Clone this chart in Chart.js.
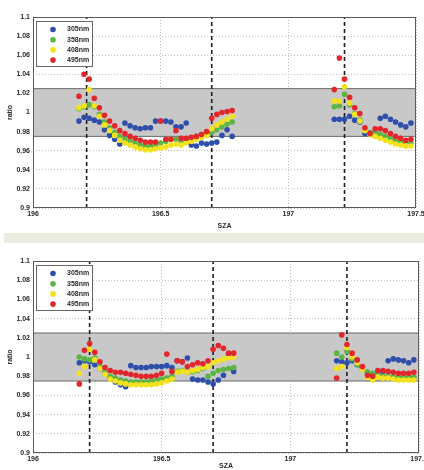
<!DOCTYPE html>
<html>
<head>
<meta charset="utf-8">
<script src="https://cdn.jsdelivr.net/npm/chart.js@4.4.0/dist/chart.umd.min.js"></script>
<style>
  html, body { margin: 0; padding: 0; background: #fff; }
  #wrap { position: relative; width: 424px; height: 470px; overflow: hidden; }
  canvas { position: absolute; left: 0; }
  #upper { top: 0; }
  #strip { position: absolute; left: 4px; top: 233px; width: 420px; height: 10px; background: #ebede0; }
  #lower { top: 243px; }
</style>
</head>
<body>
<div id="wrap">
  <canvas id="upper" width="424" height="233"></canvas>
  <div id="strip"></div>
  <canvas id="lower" width="424" height="227"></canvas>
</div>
<script>
// wavelengths and their marker colours
const bands = ["305nm", "358nm", "408nm", "495nm"];
const dotColors = ["#2d4fab", "#5cb444", "#f3e21c", "#e2262b"];

// axis limits and ticks
const szaRange = [196, 197.5];
const ratioRange = [0.9, 1.1];
const szaTicks = [196, 196.5, 197, 197.5];
const ratioTicks = [0.9, 0.92, 0.94, 0.96, 0.98, 1, 1.02, 1.04, 1.06, 1.08, 1.1];
const bandLimits = [0.975, 1.025];

// SZA sampling of the two measurement runs
const szaA = [196.18, 196.2, 196.22, 196.24, 196.26, 196.28, 196.3, 196.32, 196.34, 196.36,
  196.38, 196.4, 196.42, 196.44, 196.46, 196.48, 196.5, 196.52, 196.54, 196.56,
  196.58, 196.6, 196.62, 196.64, 196.66, 196.68, 196.7, 196.72, 196.74, 196.76, 196.78];
const szaB = [197.18, 197.2, 197.22, 197.24, 197.26, 197.28, 197.3, 197.32,
  197.34, 197.36, 197.38, 197.4, 197.42, 197.44, 197.46, 197.48];

// upper panel ratios
const upper305a = [0.991, 0.995, 0.994, 0.992, 0.990, 0.982, 0.976, 0.972, 0.967, 0.989,
  0.986, 0.984, 0.983, 0.984, 0.984, 0.991, 0.991, 0.991, 0.990, 0.985,
  0.985, 0.989, 0.966, 0.965, 0.968, 0.967, 0.968, 0.969, 0.976, 0.982, 0.975];
const upper358a = [1.004, 1.006, 1.008, 1.006, 0.998, 0.990, 0.984, 0.979, 0.975, 0.972,
  0.970, 0.968, 0.966, 0.965, 0.965, 0.966, 0.968, 0.970, 0.972, 0.972,
  0.970, 0.971, 0.973, 0.975, 0.977, 0.979, 0.979, 0.982, 0.985, 0.988, 0.990];
const upper408a = [1.005, 1.007, 1.024, 1.007, 0.996, 0.987, 0.981, 0.976, 0.971, 0.968,
  0.966, 0.964, 0.962, 0.961, 0.961, 0.962, 0.963, 0.964, 0.966, 0.967,
  0.966, 0.968, 0.970, 0.972, 0.974, 0.976, 0.983, 0.987, 0.990, 0.993, 0.996];
const upper495a = [1.017, 1.040, 1.035, 1.015, 1.005, 0.997, 0.991, 0.986, 0.981, 0.978,
  0.975, 0.973, 0.971, 0.969, 0.969, 0.969, 0.991, 0.972, 0.972, 0.981,
  0.973, 0.973, 0.974, 0.975, 0.977, 0.980, 0.994, 0.998, 1.000, 1.001, 1.002];
const upper305b = [0.993, 0.993, 0.993, 0.996, 0.992, 0.990, 0.978, 0.977,
  0.979, 0.994, 0.996, 0.993, 0.990, 0.987, 0.985, 0.989];
const upper358b = [1.006, 1.007, 1.019, 1.008, 0.999, 0.992, 0.983, 0.979,
  0.978, 0.977, 0.975, 0.973, 0.971, 0.969, 0.968, 0.968];
const upper408b = [1.012, 1.012, 1.027, 1.010, 0.998, 0.991, 0.981, 0.977,
  0.975, 0.973, 0.971, 0.969, 0.967, 0.966, 0.965, 0.965];
const upper495b = [1.024, 1.057, 1.035, 1.016, 1.005, 0.999, 0.984, 0.978,
  0.983, 0.983, 0.981, 0.978, 0.975, 0.973, 0.971, 0.972];
const upperMarks = [196.21, 196.7, 197.22];

// lower panel ratios
const lower305a = [0.994, 0.996, 0.995, 0.992, 0.988, 0.983, 0.978, 0.974, 0.971, 0.969,
  0.991, 0.989, 0.989, 0.989, 0.990, 0.990, 0.990, 0.991, 0.989, 0.996,
  0.995, 0.999, 0.977, 0.976, 0.976, 0.974, 0.972, 0.976, 0.981, 1.003, 0.985];
const lower358a = [1.000, 0.998, 0.997, 0.999, 0.990, 0.984, 0.980, 0.978, 0.976, 0.975,
  0.974, 0.974, 0.974, 0.974, 0.975, 0.976, 0.977, 0.978, 0.980, 0.985,
  0.986, 0.984, 0.985, 0.986, 0.988, 0.980, 0.983, 0.986, 0.987, 0.988, 0.989];
const lower408a = [0.983, 0.990, 1.008, 0.997, 0.988, 0.982, 0.977, 0.975, 0.973, 0.972,
  0.971, 0.971, 0.971, 0.971, 0.971, 0.972, 0.973, 0.975, 0.977, 0.984,
  0.985, 0.984, 0.986, 0.987, 0.989, 0.990, 0.994, 0.996, 0.998, 0.999, 1.000];
const lower495a = [0.972, 1.007, 1.014, 1.005, 0.995, 0.989, 0.986, 0.984, 0.984, 0.983,
  0.982, 0.981, 0.980, 0.980, 0.980, 0.981, 0.983, 1.003, 0.985, 0.996,
  0.995, 0.990, 0.992, 0.994, 0.993, 0.996, 1.008, 1.012, 1.009, 1.004, 1.004];
const lower305b = [0.996, 0.995, 0.994, 0.996, 0.992, 0.989, 0.984, 0.982,
  0.982, 0.985, 0.996, 0.998, 0.997, 0.996, 0.994, 0.997];
const lower358b = [1.004, 1.000, 1.006, 0.998, 0.992, 0.988, 0.984, 0.983,
  0.981, 0.980, 0.980, 0.979, 0.979, 0.979, 0.979, 0.979];
const lower408b = [0.988, 0.990, 1.010, 1.000, 0.994, 0.987, 0.979, 0.976,
  0.979, 0.978, 0.978, 0.977, 0.976, 0.976, 0.976, 0.976];
const lower495b = [0.978, 1.023, 1.013, 1.004, 0.997, 0.990, 0.981, 0.980,
  0.986, 0.986, 0.985, 0.984, 0.983, 0.983, 0.983, 0.984];
const lowerMarks = [196.22, 196.7, 197.22];

const tickFont = { family: "'Liberation Sans', Arial, sans-serif", size: 7, weight: "bold" };
const inkColor = "#2a2a2a";

function pairUp(xs, ys) {
  return xs.map((x, i) => ({ x: x, y: ys[i] }));
}

// box around the plot area plus the small key in the upper-left corner
const frameAndKey = {
  id: "frameAndKey",
  afterDraw(chart) {
    const { ctx, chartArea } = chart;
    ctx.save();
    ctx.strokeStyle = "#5a5a5a";
    ctx.lineWidth = 1;
    ctx.strokeRect(chartArea.left + 0.5, chartArea.top + 0.5,
      chartArea.right - chartArea.left - 1, chartArea.bottom - chartArea.top - 1);

    const x0 = chartArea.left + 3, y0 = chartArea.top + 4;
    ctx.fillStyle = "#fff";
    ctx.fillRect(x0, y0, 56, 45);
    ctx.strokeStyle = "#666";
    ctx.strokeRect(x0 + 0.5, y0 + 0.5, 56, 45);
    ctx.font = "bold 7px 'Liberation Sans', Arial, sans-serif";
    ctx.textBaseline = "middle";
    chart.data.datasets.filter(d => d.wavelength).forEach((d, k) => {
      const y = y0 + 8.5 + k * 10.2;
      ctx.fillStyle = d.backgroundColor;
      ctx.beginPath();
      ctx.arc(x0 + 17, y, 2.8, 0, Math.PI * 2);
      ctx.fill();
      ctx.fillStyle = inkColor;
      ctx.fillText(d.label, x0 + 31, y);
    });
    ctx.restore();
  }
};

function buildPanel(canvasId, runs, marks, frame) {
  const datasets = bands.map((name, k) => ({
    type: "scatter",
    label: name,
    wavelength: true,
    data: pairUp(szaA, runs[k][0]).concat(pairUp(szaB, runs[k][1])),
    backgroundColor: dotColors[k],
    pointRadius: 2.8,
    pointHoverRadius: 2.8,
    borderWidth: 0,
    order: 4 - k
  }));

  // grey tolerance band
  datasets.push({
    type: "line",
    data: [{ x: szaRange[0], y: bandLimits[0] }, { x: szaRange[1], y: bandLimits[0] }],
    borderColor: "#6b6b6b", borderWidth: 1, pointRadius: 0, fill: false, order: 10
  });
  datasets.push({
    type: "line",
    data: [{ x: szaRange[0], y: bandLimits[1] }, { x: szaRange[1], y: bandLimits[1] }],
    borderColor: "#6b6b6b", borderWidth: 1, pointRadius: 0,
    fill: "-1", backgroundColor: "#c8c8c8", order: 10
  });

  // dashed vertical markers
  marks.forEach(m => datasets.push({
    type: "line",
    data: [{ x: m, y: ratioRange[0] }, { x: m, y: ratioRange[1] }],
    borderColor: "#1e1e1e", borderWidth: 1.6, borderDash: [4, 3],
    pointRadius: 0, fill: false, order: 5
  }));

  return new Chart(document.getElementById(canvasId), {
    type: "scatter",
    data: { datasets: datasets },
    options: {
      responsive: false,
      animation: false,
      events: [],
      layout: { padding: { top: frame.top, right: frame.right, left: 0, bottom: 0 } },
      plugins: { legend: { display: false }, tooltip: { enabled: false } },
      scales: {
        x: {
          type: "linear",
          min: szaRange[0],
          max: szaRange[1],
          afterBuildTicks: ax => { ax.ticks = szaTicks.map(v => ({ value: v })); },
          afterFit: ax => { ax.height = frame.xHeight; ax.paddingLeft = 0; ax.paddingRight = 0; },
          grid: { color: "#bdbdbd", drawTicks: false },
          border: { display: false, dash: [1, 2] },
          ticks: { padding: 2, maxRotation: 0, font: tickFont, color: inkColor, callback: v => String(v) },
          title: { display: true, text: "SZA", font: tickFont, color: inkColor, padding: { top: 0, bottom: frame.titleGap } }
        },
        y: {
          type: "linear",
          min: ratioRange[0],
          max: ratioRange[1],
          afterBuildTicks: ax => { ax.ticks = ratioTicks.map(v => ({ value: v })); },
          afterFit: ax => { ax.width = 33; ax.paddingTop = 0; ax.paddingBottom = 0; },
          grid: { color: "#bdbdbd", drawTicks: false },
          border: { display: false, dash: [1, 2] },
          ticks: { padding: 3, font: tickFont, color: inkColor, callback: v => String(v) },
          title: { display: true, text: "ratio", font: tickFont, color: inkColor, padding: { top: 5.5, bottom: 0 } }
        }
      }
    },
    plugins: [frameAndKey]
  });
}

buildPanel("upper", [
  [upper305a, upper305b],
  [upper358a, upper358b],
  [upper408a, upper408b],
  [upper495a, upper495b]
], upperMarks, { top: 17, right: 8, xHeight: 25, titleGap: 3 });

buildPanel("lower", [
  [lower305a, lower305b],
  [lower358a, lower358b],
  [lower408a, lower408b],
  [lower495a, lower495b]
], lowerMarks, { top: 18, right: 5, xHeight: 17, titleGap: 0 });
</script>
</body>
</html>
